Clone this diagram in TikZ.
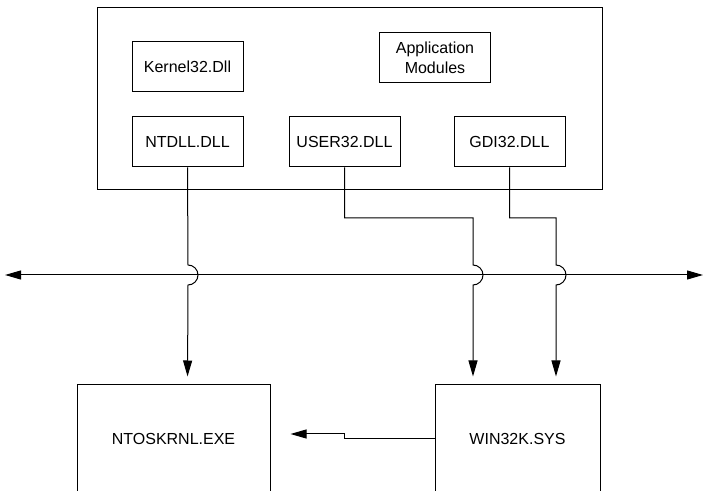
\documentclass[tikz,border=0pt]{standalone}
\usepackage{fontspec}
\setmainfont{Liberation Sans}
\usetikzlibrary{arrows.meta, positioning}
\tikzset{
  userbox/.style={draw, line width=1pt, minimum width=505pt, minimum height=182pt},
  dll/.style={draw, line width=1pt, minimum width=111pt, minimum height=50pt,
              inner sep=2pt, align=center, font=\fontsize{16}{20}\selectfont},
  sysbox/.style={draw, line width=1pt, minimum height=108pt,
              inner sep=2pt, font=\fontsize{16}{20}\selectfont},
  wire/.style={line width=1pt},
  call/.style={-{Triangle[length=16pt,width=9pt]}, line width=1pt, shorten >=8pt},
  bus/.style={{Triangle[length=16pt,width=9pt]}-{Triangle[length=16pt,width=9pt]}, line width=1pt},
}

\begin{document}
\begin{tikzpicture}[x=1pt, y=1pt]
  \useasboundingbox (0,0) rectangle (704,490);
  \clip (0,0) rectangle (704,490);
  % user mode
  \node[userbox] (user) at (349.5,391) {};
  \node[dll] (k32) at (187.5,423) {Kernel32.Dll};
  \node[dll] (app) at (435,432) {Application\\Modules};
  \node[dll] (ntdll) at (187.5,348) {NTDLL.DLL};
  \node[dll] (user32) at (344.5,348) {USER32.DLL};
  \node[dll] (gdi32) at (509.5,348) {GDI32.DLL};
  % kernel mode
  \node[sysbox, minimum width=193pt] (ntos) at (173.5,51) {NTOSKRNL.EXE};
  \node[sysbox, minimum width=165pt] (win32k) at (517.5,51) {WIN32K.SYS};
  % system call bus
  \coordinate (busL) at (5,215);
  \coordinate (busR) at (703,215);
  \draw[bus] (busL) -- (busR);
  % jogs
  \coordinate (jogU) at (473,272);
  \coordinate (jogG) at (556,272);
  \draw[call] (ntdll.south) -- (188,225) arc[start angle=90, end angle=-90, radius=10]
    -- (ntos.north -| ntdll.south);
  \draw[call] (user32.south) |- (jogU) -- (473,225) arc[start angle=90, end angle=-90, radius=10]
    -- (win32k.north -| jogU);
  \draw[call] (gdi32.south) |- (jogG) -- (556,225) arc[start angle=90, end angle=-90, radius=10]
    -- (win32k.north -| jogG);
  \coordinate (step1) at (344,51);
  \coordinate (step2) at (344,56);
  \draw[-{Triangle[length=16pt,width=9pt]}, wire] (win32k.west) -- (step1) -- (step2)
    -- ([xshift=20pt]ntos.east |- step2);
\end{tikzpicture}
\end{document}
